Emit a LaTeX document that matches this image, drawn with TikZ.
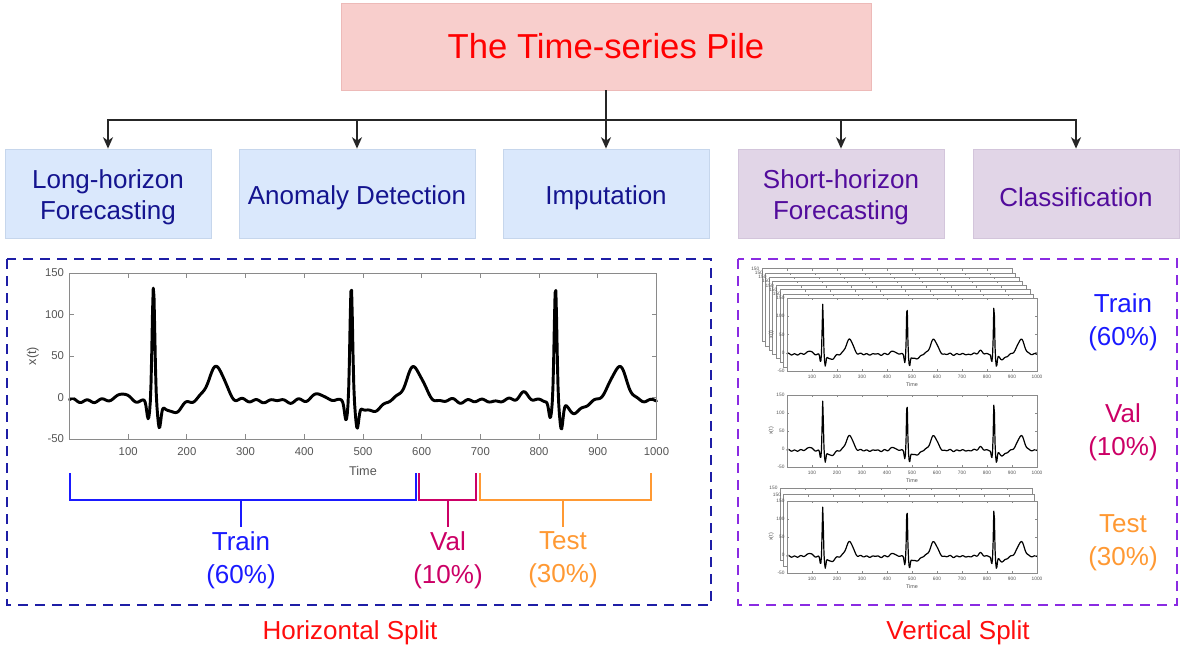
\documentclass[tikz,border=0pt]{standalone}
\usepackage{fontspec}
\setmainfont{Liberation Sans}
\usetikzlibrary{arrows.meta}
\definecolor{titlefill}{HTML}{F8CECC}
\definecolor{titledraw}{HTML}{EDBAB8}
\definecolor{bluefill}{HTML}{DAE8FC}
\definecolor{bluedraw}{HTML}{C6D6EC}
\definecolor{bluetext}{HTML}{14148F}
\definecolor{purfill}{HTML}{E1D5E7}
\definecolor{purdraw}{HTML}{D3C5DB}
\definecolor{purtext}{HTML}{520C9C}
\definecolor{hframec}{HTML}{1E1EA6}
\definecolor{vframec}{HTML}{8A2BE2}
\definecolor{trainc}{HTML}{1A1AFF}
\definecolor{valc}{HTML}{CC0066}
\definecolor{testc}{HTML}{FF9933}
\definecolor{splitc}{HTML}{FF0D0D}
\definecolor{axisc}{HTML}{8A8A8A}
\definecolor{tickc}{HTML}{555555}

\newcommand\ecgplot[7]{%
 \pgfmathsetmacro\esx{(#2-(#1))/1000}%
 \pgfmathsetmacro\esy{(#4-(#3))/200}%
 \pgfmathsetmacro\efs{8.5*#5}%
 \pgfmathsetmacro\eft{9.5*#5}%
 \pgfmathsetmacro\eaw{max(0.45,0.75*#5)}%
 \begin{scope}[shift={(#1,#4)},xscale=\esx,yscale=-\esy]
  \fill[white] (0,0) rectangle (1000,200);
  \draw[black,line width=#7,line join=round,line cap=round] plot[domain=0:1000,samples=#6] (\x,{ecg(\x)+50});
  \draw[axisc,line width=\eaw pt] (0,0) rectangle (1000,200);
  \foreach \v in {100,200,...,900}{\draw[axisc,line width=\eaw pt] (\v,0) -- (\v,6) (\v,200) -- (\v,194);}
  \foreach \v in {50,100,150}{\draw[axisc,line width=\eaw pt] (0,\v) -- (8.5,\v) (1000,\v) -- (991.5,\v);}
  \foreach \v in {100,200,...,1000}{\node[text=tickc,font=\fontsize{\efs}{\efs}\selectfont,inner sep=0pt,anchor=north] at (\v,-10.5) {\v};}
  \foreach \v in {-50,0,50,100,150}{\node[text=tickc,font=\fontsize{\efs}{\efs}\selectfont,inner sep=0pt,anchor=east] at (-9,{\v+50}) {\v};}
  \node[text=tickc,font=\fontsize{\eft}{\eft}\selectfont,inner sep=0pt,anchor=north] at (500,-32) {Time};
  \node[text=tickc,font=\fontsize{\eft}{\eft}\selectfont,inner sep=0pt,rotate=90,anchor=south] at (-52,100) {x(t)};
 \end{scope}}

\newcommand\ecgback[4]{%
 \pgfmathsetmacro\esx{(#2-(#1))/1000}%
 \pgfmathsetmacro\esy{(#4-(#3))/200}%
 \begin{scope}[shift={(#1,#4)},xscale=\esx,yscale=-\esy]
  \fill[white] (0,0) rectangle (1000,200);
  \draw[axisc,line width=0.45pt] (0,0) rectangle (1000,200);
  \foreach \v in {100,200,...,900}{\draw[axisc,line width=0.45pt] (\v,200) -- (\v,194);}
  \node[text=tickc,font=\fontsize{3.6}{3.6}\selectfont,inner sep=0pt,anchor=east] at (-9,200) {150};
 \end{scope}}

\begin{document}
\begin{tikzpicture}[x=0.75pt,y=-0.75pt,
 declare function={
  gs(\t,\w)=exp(-pow(min(abs(\t)/\w,6),2));
  bt(\t)=10*gs(\t+55,12)-20*gs(\t+9,3.5)+140*gs(\t,3.2)-30*gs(\t-10,3.8)-13*gs(\t-32,22)+40*gs(\t-107,20);
  ecg(\x)=-4+bt(\x-143)+bt(\x-480)+bt(\x-828)+1.5*sin(15*\x)+1.1*sin(7.3*\x+40)+0.8*sin(11.1*\x+100);
 },
 titlebox/.style={draw=titledraw,fill=titlefill,line width=0.6pt,text=red,font=\fontsize{26}{30}\selectfont,inner sep=0pt},
 taskbox/.style={line width=0.6pt,minimum height=66.75pt,inner sep=0pt},
 boxtext/.style={align=center,font=\fontsize{19.5}{23.5}\selectfont,inner sep=0pt,yshift=-3pt},
 bluebox/.style={taskbox,draw=bluedraw,fill=bluefill},
 purbox/.style={taskbox,draw=purdraw,fill=purfill},
 bluelab/.style={boxtext,text=bluetext},
 purlab/.style={boxtext,text=purtext},
 conn/.style={draw=black!85,line width=1pt,-{Stealth[length=8.5pt,width=7.5pt,inset=2.5pt]}},
 frameh/.style={draw=hframec,line width=2.2pt,dash pattern=on 7.5pt off 5.25pt},
 framev/.style={draw=vframec,line width=2.2pt,dash pattern=on 7.5pt off 5.25pt},
 splitlab/.style={text=splitc,font=\fontsize{19.5}{23.5}\selectfont,inner sep=0pt},
 lab/.style={align=center,font=\fontsize{19.5}{24.75}\selectfont,inner sep=0pt},
 brk/.style={line width=2.2pt}
]
\useasboundingbox (0,0) rectangle (1188,651);
\fill[white] (0,0) rectangle (1188,651);

% title and task boxes
\node[titlebox,minimum width=397.5pt,minimum height=65.25pt] (title) at (606,46.5) {The Time-series Pile};
\node[bluebox,minimum width=154.5pt,label={[bluelab]center:{Long-horizon\\Forecasting}}] (b1) at (108,193.5) {};
\node[bluebox,minimum width=177pt,label={[bluelab]center:{Anomaly Detection}}] (b2) at (357,193.5) {};
\node[bluebox,minimum width=154.5pt,label={[bluelab]center:{Imputation}}] (b3) at (606,193.5) {};
\node[purbox,minimum width=154.5pt,label={[purlab]center:{Short-horizon\\Forecasting}}] (b4) at (841,193.5) {};
\node[purbox,minimum width=154.5pt,label={[purlab]center:{Classification}}] (b5) at (1076,193.5) {};

\coordinate (junc) at (606,120);
\draw[conn] (title.south) -- (b3.north);
\draw[conn] (junc) -| (b1.north);
\draw[conn] (junc) -| (b2.north);
\draw[conn] (junc) -| (b4.north);
\draw[conn] (junc) -| (b5.north);

% horizontal split
\draw[frameh] (7,259) rectangle (711,605);
\ecgplot{69.5}{656.5}{273}{439}{1}{800}{2.2pt}

\draw[brk,trainc] (70,473) -- (70,500) -- (416,500) -- (416,473);
\draw[brk,valc] (419,473) -- (419,500) -- (476,500) -- (476,473);
\draw[brk,testc] (480,473) -- (480,500) -- (651,500) -- (651,473);
\coordinate (trtop) at (241,500); \coordinate (trbot) at (241,527);
\coordinate (vatop) at (448,500); \coordinate (vabot) at (448,527);
\coordinate (tetop) at (563,500); \coordinate (tebot) at (563,527);
\draw[brk,trainc] (trtop) -- (trbot);
\draw[brk,valc] (vatop) -- (vabot);
\draw[brk,testc] (tetop) -- (tebot);

\node[lab,text=trainc] (ltrain) at (241,560) {Train\\(60\%)};
\node[lab,text=valc] (lval) at (448,560) {Val\\(10\%)};
\node[lab,text=testc] (ltest) at (563,560) {Test\\(30\%)};
\node[splitlab] (hsplit) at (350,633) {Horizontal Split};

% vertical split
\draw[framev] (738,259) rectangle (1177,605);
\foreach \k in {7,6,5,4,3,2,1}{%
 \pgfmathsetmacro\bl{787-3.6*\k}\pgfmathsetmacro\br{1037-3.6*\k}%
 \pgfmathsetmacro\btp{298-4.2*\k}\pgfmathsetmacro\bbt{371-4.2*\k}%
 \ecgback{\bl}{\br}{\btp}{\bbt}}
\ecgplot{787}{1037}{298}{371}{0.426}{400}{0.9pt}
\ecgplot{787}{1037}{395}{467}{0.426}{400}{0.9pt}
\foreach \k in {2,1}{%
 \pgfmathsetmacro\bl{787-3.5*\k}\pgfmathsetmacro\br{1037-2.5*\k}%
 \pgfmathsetmacro\btp{501-6.5*\k}\pgfmathsetmacro\bbt{573-6.5*\k}%
 \ecgback{\bl}{\br}{\btp}{\bbt}}
\ecgplot{787}{1037}{501}{573}{0.426}{400}{0.9pt}

\node[lab,text=trainc] (rtrain) at (1123,322.5) {Train\\(60\%)};
\node[lab,text=valc] (rval) at (1123,432.5) {Val\\(10\%)};
\node[lab,text=testc] (rtest) at (1123,542.5) {Test\\(30\%)};
\node[splitlab] (vsplit) at (958,633) {Vertical Split};
\end{tikzpicture}
\end{document}
